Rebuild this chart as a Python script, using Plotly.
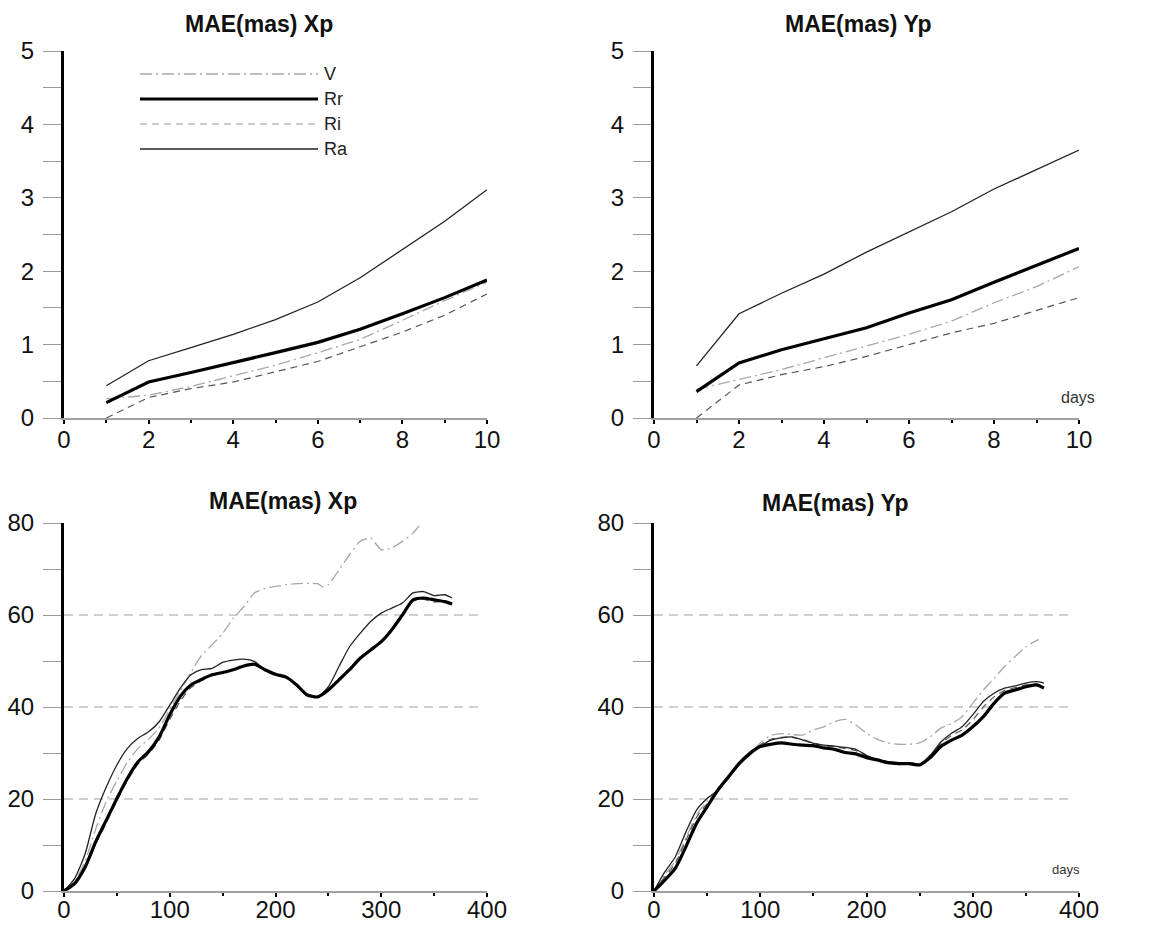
import plotly.graph_objects as go

W, H = 1157, 926

# ---------------- data ----------------
days_short = [1, 2, 3, 4, 5, 6, 7, 8, 9, 10]

xp_short_V = [0.26, 0.31, 0.43, 0.57, 0.72, 0.89, 1.07, 1.33, 1.60, 1.85]
xp_short_Rr = [0.21, 0.49, 0.62, 0.75, 0.89, 1.03, 1.21, 1.42, 1.64, 1.88]
xp_short_Ri = [0.00, 0.28, 0.40, 0.49, 0.63, 0.77, 0.97, 1.17, 1.40, 1.69]
xp_short_Ra = [0.44, 0.78, 0.96, 1.14, 1.34, 1.58, 1.91, 2.29, 2.68, 3.11]

yp_short_V = [0.39, 0.52, 0.66, 0.82, 0.98, 1.14, 1.32, 1.57, 1.79, 2.06]
yp_short_Rr = [0.36, 0.75, 0.93, 1.08, 1.23, 1.43, 1.61, 1.85, 2.08, 2.31]
yp_short_Ri = [0.00, 0.45, 0.59, 0.70, 0.84, 1.00, 1.16, 1.29, 1.47, 1.64]
yp_short_Ra = [0.71, 1.42, 1.70, 1.96, 2.26, 2.54, 2.81, 3.12, 3.38, 3.65]

days_long = [0, 10, 20, 30, 40, 50, 60, 70, 80, 90, 100, 110, 120, 130, 140,
             150, 160, 170, 180, 190, 200, 210, 220, 230, 240, 250, 260, 270,
             280, 290, 300, 310, 320, 330, 340, 350, 360, 367]

xp_long_Ra = [0, 2.7, 8.1, 16.8, 22.6, 27.4, 31.0, 33.2, 34.6, 36.8, 40.4, 44.1,
              47.0, 48.1, 48.4, 49.7, 50.2, 50.4, 49.9, 48.1, 47.0, 46.5, 44.8,
              42.6, 42.2, 44.4, 48.8, 53.1, 56.0, 58.6, 60.4, 61.5, 62.6, 64.8,
              65.1, 64.2, 64.4, 63.7]
xp_long_Rr = [0, 1.6, 5.2, 10.7, 15.4, 20.1, 24.5, 28.1, 30.3, 33.5, 38.3, 42.3,
              44.8, 46.0, 47.0, 47.5, 48.1, 48.9, 49.3, 48.1, 47.1, 46.5, 44.8,
              42.6, 42.2, 43.7, 45.9, 48.1, 50.6, 52.4, 54.2, 56.8, 60.0, 63.3,
              63.7, 63.3, 62.9, 62.4]
xp_long_Ri = [0, 1.3, 4.8, 10.2, 14.8, 19.6, 24.0, 27.6, 29.8, 32.8, 37.3, 41.3,
              44.2, 45.7, 46.8, 47.4, 48.0, 48.8, 49.3, 48.2, 47.1, 46.5, 44.9,
              42.8, 42.4, 43.6, 45.8, 48.0, 50.5, 52.3, 54.0, 56.6, 59.8, 63.0,
              63.4, 62.8, 63.0, 62.6]
days_long_xp_V = [0, 10, 20, 30, 40, 50, 60, 70, 80, 90, 100, 110, 120, 130,
                  140, 150, 160, 170, 180, 190, 200, 210, 220, 230, 240, 245,
                  250, 260, 270, 280, 290, 300, 310, 320, 330, 338]
xp_long_V = [0, 2.0, 6.5, 13.5, 19.5, 24.0, 28.0, 31.0, 33.0, 35.5, 39.5, 43.5,
             47.5, 51.2, 53.5, 56.0, 59.3, 61.8, 64.8, 65.8, 66.2, 66.6, 66.8,
             66.9, 66.8, 66.1, 66.6, 69.8, 73.1, 76.0, 76.7, 74.2, 74.6, 76.0,
             77.8, 80.0]

yp_long_Ra = [0, 4.1, 7.4, 12.8, 17.6, 20.1, 21.9, 24.5, 27.4, 29.5, 31.4, 32.8,
              33.3, 33.5, 32.8, 32.1, 31.7, 31.5, 31.2, 30.8, 29.5, 28.6, 28.1,
              27.9, 27.9, 27.6, 29.5, 32.4, 34.3, 35.7, 38.3, 41.2, 43.0, 44.1,
              44.6, 45.2, 45.5, 45.2]
yp_long_Rr = [0, 2.3, 4.9, 9.6, 14.7, 18.3, 21.9, 24.8, 27.7, 29.9, 31.4, 31.9,
              32.2, 31.9, 31.7, 31.6, 31.1, 30.8, 30.1, 29.8, 29.0, 28.5, 27.9,
              27.7, 27.7, 27.4, 29.0, 31.4, 32.8, 33.9, 35.7, 37.9, 40.8, 43.0,
              43.7, 44.4, 44.8, 44.1]
yp_long_Ri = [0, 3.0, 6.0, 11.0, 16.0, 19.0, 21.5, 24.8, 27.6, 29.8, 31.8, 33.0,
              33.4, 33.4, 32.9, 32.2, 31.6, 31.3, 31.0, 30.5, 29.3, 28.4, 27.8,
              27.5, 27.6, 27.3, 29.3, 32.0, 33.8, 35.0, 37.2, 40.0, 42.2, 43.6,
              44.2, 44.8, 45.0, 44.6]
days_long_yp_V = [0, 10, 20, 30, 40, 50, 60, 70, 80, 90, 100, 110, 120, 130,
                  140, 150, 160, 170, 180, 190, 200, 210, 220, 230, 240, 250,
                  260, 270, 280, 290, 300, 310, 320, 330, 340, 350, 362]
yp_long_V = [0, 3.5, 6.5, 11.5, 16.5, 19.5, 21.8, 24.8, 27.6, 29.8, 32.2, 33.8,
             34.2, 34.0, 33.9, 35.0, 35.7, 36.8, 37.3, 36.1, 34.3, 33.0, 32.2,
             31.9, 31.9, 32.2, 33.5, 35.4, 36.4, 37.9, 40.8, 43.7, 46.2, 48.8,
             51.0, 53.1, 54.7]

series_names = ["V", "Rr", "Ri", "Ra"]
panel_titles = ["MAE(mas) Xp", "MAE(mas) Yp", "MAE(mas) Xp", "MAE(mas) Yp"]
grid_levels = [20, 40, 60]

# ---------------- styles ----------------
FONT = "Liberation Sans, Arial, sans-serif"
STYLE = {
    "V": dict(color="#a8a8a8", width=1.3, dash="12px,4px,2px,4px"),
    "Rr": dict(color="#000000", width=3.2, dash="solid"),
    "Ri": dict(color="#555555", width=1.2, dash="7px,5px"),
    "Ra": dict(color="#222222", width=1.3, dash="solid"),
}


def px_x(p):
    return p / W


def px_y(p):
    return 1 - p / H


fig = go.Figure()

panels = [
    ("", {"V": days_short, "Rr": days_short, "Ri": days_short, "Ra": days_short},
     {"V": xp_short_V, "Rr": xp_short_Rr, "Ri": xp_short_Ri, "Ra": xp_short_Ra}, False),
    ("2", {"V": days_short, "Rr": days_short, "Ri": days_short, "Ra": days_short},
     {"V": yp_short_V, "Rr": yp_short_Rr, "Ri": yp_short_Ri, "Ra": yp_short_Ra}, False),
    ("3", {"V": days_long_xp_V, "Rr": days_long, "Ri": days_long, "Ra": days_long},
     {"V": xp_long_V, "Rr": xp_long_Rr, "Ri": xp_long_Ri, "Ra": xp_long_Ra}, True),
    ("4", {"V": days_long_yp_V, "Rr": days_long, "Ri": days_long, "Ra": days_long},
     {"V": yp_long_V, "Rr": yp_long_Rr, "Ri": yp_long_Ri, "Ra": yp_long_Ra}, True),
]

draw_order = ["V", "Ri", "Ra", "Rr"]
for suf, xs, ys, smooth in panels:
    for name in draw_order:
        st = STYLE[name]
        line = dict(color=st["color"], width=st["width"], dash=st["dash"])
        if smooth:
            line["shape"] = "spline"
            line["smoothing"] = 0.6
        fig.add_trace(go.Scatter(
            x=xs[name], y=ys[name], mode="lines", name=name, showlegend=False,
            line=line, xaxis="x" + suf, yaxis="y" + suf, hoverinfo="skip"))

left_dom = [px_x(64), px_x(487)]
right_dom = [px_x(654), px_x(1079)]
top_dom = [px_y(418), px_y(51)]
bot_dom = [px_y(891), px_y(523)]

tickfont = dict(family=FONT, size=24, color="#111111")


def xaxis(dom, anchor, rng, dtick, minor_dtick, standoff):
    return dict(domain=dom, anchor=anchor, range=rng, showgrid=False, zeroline=False,
                automargin=False,
                showline=True, linecolor="#a0a0a0", linewidth=1.5,
                ticks="outside", ticklen=4, tickwidth=2, tickcolor="#000000",
                dtick=dtick, tick0=0, tickfont=tickfont, ticklabelstandoff=standoff,
                minor=dict(dtick=minor_dtick, ticks="outside", ticklen=3,
                           tickwidth=2, tickcolor="#000000", showgrid=False))


def yaxis(dom, anchor, rng, dtick, minor_dtick):
    return dict(domain=dom, anchor=anchor, range=rng, showgrid=False, zeroline=False,
                automargin=False,
                showline=True, linecolor="#000000", linewidth=3,
                ticks="outside", ticklen=18, tickwidth=1.2, tickcolor="#9a9a9a",
                dtick=dtick, tick0=0, tickfont=tickfont, ticklabelstandoff=4,
                minor=dict(dtick=minor_dtick, ticks="outside", ticklen=18,
                           tickwidth=1.2, tickcolor="#9a9a9a", showgrid=False))


fig.update_layout(
    width=W, height=H, autosize=False,
    margin=dict(l=0, r=0, t=0, b=0, pad=0),
    paper_bgcolor="white", plot_bgcolor="white",
    font=dict(family=FONT, color="#111111"),
    showlegend=False,
    xaxis=xaxis(left_dom, "y", [0, 10], 2, 1, -5),
    yaxis=yaxis(top_dom, "x", [0, 5], 1, 0.5),
    xaxis2=xaxis(right_dom, "y2", [0, 10], 2, 1, -5),
    yaxis2=yaxis(top_dom, "x2", [0, 5], 1, 0.5),
    xaxis3=xaxis(left_dom, "y3", [0, 400], 100, 50, -8),
    yaxis3=yaxis(bot_dom, "x3", [0, 80], 20, 10),
    xaxis4=xaxis(right_dom, "y4", [0, 400], 100, 50, -8),
    yaxis4=yaxis(bot_dom, "x4", [0, 80], 20, 10),
)

shapes = []
for suf in ["3", "4"]:
    for g in grid_levels:
        shapes.append(dict(type="line", xref="x" + suf + " domain", yref="y" + suf,
                           x0=0.0, x1=0.985, y0=g, y1=g, layer="below",
                           line=dict(color="#a0a0a0", width=1.2, dash="9px,6px")))

leg_y = [74, 99, 124, 149]
annotations = []
for name, yy in zip(series_names, leg_y):
    st = STYLE[name]
    lcol = "#9a9a9a" if name == "Ri" else st["color"]
    shapes.append(dict(type="line", xref="paper", yref="paper",
                       x0=px_x(140), x1=px_x(318), y0=px_y(yy), y1=px_y(yy),
                       line=dict(color=lcol, width=st["width"], dash=st["dash"])))
    annotations.append(dict(text=name, xref="paper", yref="paper",
                            x=px_x(322), y=px_y(yy), xanchor="left", yanchor="middle",
                            showarrow=False, font=dict(family=FONT, size=18, color="#222222")))

title_pos = [(259, 24), (858, 24), (283, 501), (835, 503)]
for t, (tx, ty) in zip(panel_titles, title_pos):
    annotations.append(dict(text="<b>" + t + "</b>", xref="paper", yref="paper",
                            x=px_x(tx), y=px_y(ty), xanchor="center", yanchor="middle",
                            showarrow=False, font=dict(family=FONT, size=23, color="#111111")))

annotations.append(dict(text="days", xref="paper", yref="paper", x=px_x(1097), y=px_y(397),
                        xanchor="right", yanchor="middle", showarrow=False,
                        font=dict(family=FONT, size=16, color="#333333")))
annotations.append(dict(text="days", xref="paper", yref="paper", x=px_x(1082), y=px_y(869),
                        xanchor="right", yanchor="middle", showarrow=False,
                        font=dict(family=FONT, size=13, color="#333333")))

fig.update_layout(shapes=shapes, annotations=annotations)

fig.write_html("out.html")
